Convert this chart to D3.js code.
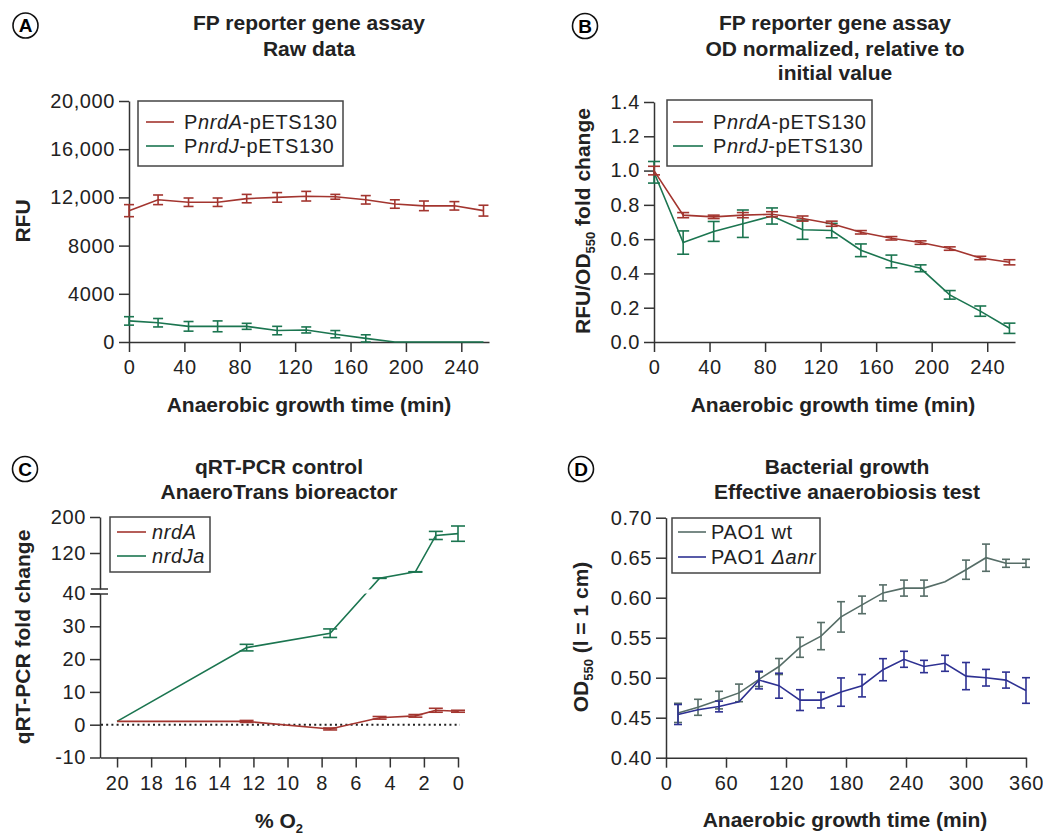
<!DOCTYPE html>
<html>
<head>
<meta charset="utf-8">
<script src="https://cdn.jsdelivr.net/npm/d3@7"></script>
<style>
  body { margin: 0; background: #fff; }
  svg { font-family: "Liberation Sans", Arial, Helvetica, sans-serif; }
  .tick text { font-size: 20px; letter-spacing: 0.6px; fill: #222; }
  .domain, .tick line { stroke: #333; stroke-width: 1.5px; }
  .title { font-size: 21px; font-weight: bold; fill: #222; }
  .legend text { font-size: 20px; letter-spacing: 0.6px; fill: #222; }
</style>
</head>
<body>
<svg id="fig" width="1043" height="835"></svg>
<script>
// --- data: panels A and B (FP reporter assay) ---
const timeAB = [0, 21, 43, 64, 85, 107, 128, 149, 171, 192, 213, 235, 256];
const rawNrdA = [10900, 11800, 11600, 11600, 11900, 12000, 12100, 12050, 11800, 11450, 11300, 11300, 10900];
const rawNrdAErr = [500, 400, 350, 350, 350, 400, 400, 200, 350, 350, 400, 350, 450];
const rawNrdJ = [1750, 1600, 1300, 1300, 1300, 950, 1000, 650, 300, 0, 0, 0, 0];
const rawNrdJErr = [350, 350, 400, 450, 250, 350, 250, 300, 300, 0, 0, 0, 0];

const normNrdA = [1.0, 0.74, 0.73, 0.74, 0.745, 0.72, 0.69, 0.64, 0.605, 0.58, 0.545, 0.49, 0.465];
const normNrdAErr = [0.025, 0.015, 0.01, 0.015, 0.015, 0.015, 0.015, 0.01, 0.01, 0.01, 0.01, 0.01, 0.015];
const normNrdJ = [0.99, 0.58, 0.645, 0.69, 0.735, 0.655, 0.65, 0.535, 0.47, 0.43, 0.275, 0.18, 0.08];
const normNrdJErr = [0.063, 0.068, 0.058, 0.08, 0.047, 0.056, 0.042, 0.037, 0.037, 0.02, 0.025, 0.03, 0.03];

// --- data: panel C (qRT-PCR vs % O2) ---
const o2 = [20, 12.4, 7.5, 4.6, 2.5, 1.3, 0];
const pcrNrdA = [1, 1, -1.3, 2.1, 2.7, 4.4, 4.1];
const pcrNrdAErr = [0, 0.3, 0.3, 0.4, 0.4, 0.6, 0.3];
const pcrNrdJa = [1, 23.5, 27.9, 64, 78, 159, 163];
const pcrNrdJaErr = [0, 1, 1.3, 0.4, 0.4, 9, 17];

// --- data: panel D (bacterial growth) ---
const timeD = [12, 32, 53, 73, 93, 113, 134, 155, 175, 196, 217, 238, 258, 279, 300, 320, 340, 360];
const odWt = [0.456, 0.463, 0.472, 0.481, 0.498, 0.514, 0.538, 0.552, 0.576, 0.591, 0.606, 0.612, 0.612, 0.62, 0.635, 0.65, 0.643, 0.643];
const odWtErr = [0.012, 0.010, 0.011, 0.011, 0.009, 0.010, 0.0125, 0.017, 0.019, 0.011, 0.010, 0.010, 0.010, 0, 0.012, 0.017, 0.005, 0.005];
const odAnr = [0.454, 0.46, 0.464, 0.47, 0.497, 0.49, 0.472, 0.472, 0.482, 0.49, 0.51, 0.523, 0.514, 0.518, 0.502, 0.50, 0.497, 0.484];
const odAnrErr = [0.0125, 0, 0.0067, 0, 0.011, 0.0156, 0.013, 0.0098, 0.0177, 0.014, 0.0138, 0.010, 0.0077, 0.010, 0.017, 0.0104, 0.010, 0.016];

const RED = "#a3352f", GREEN = "#1b7550", GREY = "#566d67", BLUE = "#2e3192";

const svg = d3.select("#fig");

function drawSeries(g, xs, ys, x, y, color) {
  const line = d3.line().x((d, i) => x(xs[i])).y(d => y(d));
  g.append("path").datum(ys)
    .attr("d", line).attr("fill", "none")
    .attr("stroke", color).attr("stroke-width", 1.6);
}

function drawErrors(g, xs, ys, errs, x, y, color, cap) {
  const data = ys.map((v, i) => ({ x: xs[i], v: v, e: errs[i] })).filter(d => d.e > 0);
  const eb = g.append("g").attr("stroke", color).attr("stroke-width", 1.6);
  data.forEach(d => {
    const cx = x(d.x), y0 = y(d.v - d.e), y1 = y(d.v + d.e);
    eb.append("line").attr("x1", cx).attr("x2", cx).attr("y1", y0).attr("y2", y1);
    eb.append("line").attr("x1", cx - cap).attr("x2", cx + cap).attr("y1", y0).attr("y2", y0);
    eb.append("line").attr("x1", cx - cap).attr("x2", cx + cap).attr("y1", y1).attr("y2", y1);
  });
}

function circled(cx, cy, letter) {
  svg.append("circle").attr("cx", cx).attr("cy", cy).attr("r", 12.5)
    .attr("fill", "none").attr("stroke", "#111").attr("stroke-width", 1.6);
  svg.append("text").attr("x", cx).attr("y", cy).attr("dy", "0.36em")
    .attr("text-anchor", "middle").style("font-size", "19px").style("font-weight", "bold")
    .text(letter);
}

function title(cx, ys, lines) {
  lines.forEach((t, i) => {
    svg.append("text").attr("class", "title").attr("x", cx).attr("y", ys[i])
      .attr("dy", "0.35em").attr("text-anchor", "middle").text(t);
  });
}

// axis title with optional subscript part: parts = [[text, isSub], ...]
function axisTitle(cx, cy, parts, rotate) {
  const t = svg.append("text").attr("class", "title")
    .attr("text-anchor", "middle")
    .attr("transform", `translate(${cx},${cy})` + (rotate ? " rotate(-90)" : ""))
    .attr("dy", "0.35em");
  parts.forEach(p => {
    const s = t.append("tspan").text(p[0]);
    if (p[1]) s.style("font-size", "13px").attr("baseline-shift", "-35%");
  });
}

// legend: items = [{color, parts:[[text, italic], ...]}]
function legend(x0, y0, w, h, lineX0, lineX1, textX, rowYs, items) {
  const g = svg.append("g").attr("class", "legend");
  g.append("rect").attr("x", x0).attr("y", y0).attr("width", w).attr("height", h)
    .attr("fill", "#fff").attr("stroke", "#444").attr("stroke-width", 1.5);
  items.forEach((it, i) => {
    g.append("line").attr("x1", lineX0).attr("x2", lineX1)
      .attr("y1", rowYs[i]).attr("y2", rowYs[i])
      .attr("stroke", it.color).attr("stroke-width", 1.6);
    const t = g.append("text").attr("x", textX).attr("y", rowYs[i]).attr("dy", "0.36em");
    it.parts.forEach(p => {
      t.append("tspan").text(p[0]).style("font-style", p[1] ? "italic" : "normal");
    });
  });
}

// ================= Panel A =================
{
  const x = d3.scaleLinear([0, 260], [129, 489]);
  const y = d3.scaleLinear([0, 20000], [342, 101]);
  const g = svg.append("g");
  g.append("g").attr("transform", "translate(0,342)")
    .call(d3.axisBottom(x).tickValues([0, 40, 80, 120, 160, 200, 240])
      .tickSize(10).tickSizeOuter(0).tickPadding(8));
  g.append("g").attr("transform", "translate(129,0)")
    .call(d3.axisLeft(y).tickValues([0, 4000, 8000, 12000, 16000, 20000])
      .tickFormat(d => d >= 10000 ? d3.format(",")(d) : d)
      .tickSize(10).tickSizeOuter(0).tickPadding(4));
  drawSeries(g, timeAB, rawNrdJ, x, y, GREEN);
  drawErrors(g, timeAB, rawNrdJ, rawNrdJErr, x, y, GREEN, 5);
  drawSeries(g, timeAB, rawNrdA, x, y, RED);
  drawErrors(g, timeAB, rawNrdA, rawNrdAErr, x, y, RED, 5);

  legend(138, 101, 205, 65, 146, 174, 184, [122, 146], [
    { color: RED, parts: [["P", false], ["nrdA", true], ["-pETS130", false]] },
    { color: GREEN, parts: [["P", false], ["nrdJ", true], ["-pETS130", false]] }
  ]);
  circled(25.5, 25.5, "A");
  title(309, [23, 49], ["FP reporter gene assay", "Raw data"]);
  axisTitle(23, 221, [["RFU", false]], true);
  axisTitle(309, 405, [["Anaerobic growth time (min)", false]], false);
}

// ================= Panel B =================
{
  const x = d3.scaleLinear([0, 260], [654, 1015]);
  const y = d3.scaleLinear([0, 1.4], [342, 102]);
  const g = svg.append("g");
  g.append("g").attr("transform", "translate(0,342)")
    .call(d3.axisBottom(x).tickValues([0, 40, 80, 120, 160, 200, 240])
      .tickSize(10).tickSizeOuter(0).tickPadding(8));
  g.append("g").attr("transform", "translate(654,0)")
    .call(d3.axisLeft(y).tickValues([0, 0.2, 0.4, 0.6, 0.8, 1.0, 1.2, 1.4])
      .tickFormat(d3.format(".1f"))
      .tickSize(10).tickSizeOuter(0).tickPadding(4));
  drawSeries(g, timeAB, normNrdJ, x, y, GREEN);
  drawErrors(g, timeAB, normNrdJ, normNrdJErr, x, y, GREEN, 6);
  drawSeries(g, timeAB, normNrdA, x, y, RED);
  drawErrors(g, timeAB, normNrdA, normNrdAErr, x, y, RED, 6);

  legend(667, 100, 205, 66, 673, 703, 713, [122, 146], [
    { color: RED, parts: [["P", false], ["nrdA", true], ["-pETS130", false]] },
    { color: GREEN, parts: [["P", false], ["nrdJ", true], ["-pETS130", false]] }
  ]);
  circled(585, 26, "B");
  title(835, [23, 48.5, 73], ["FP reporter gene assay", "OD normalized, relative to", "initial value"]);
  axisTitle(583, 221, [["RFU/OD", false], ["550", true], [" fold change", false]], true);
  axisTitle(833, 405, [["Anaerobic growth time (min)", false]], false);
}

// ================= Panel C (segmented y axis) =================
{
  const x = d3.scaleLinear([21, 0], [100, 458]);
  const yLow = d3.scaleLinear([-10, 40], [757.5, 593.5]);
  const yUp = d3.scaleLinear([40, 200], [589, 517]);
  const yC = v => v <= 40 ? yLow(v) : yUp(v);
  const g = svg.append("g");

  g.append("g").attr("transform", "translate(0,757.5)")
    .call(d3.axisBottom(x).tickValues([20, 18, 16, 14, 12, 10, 8, 6, 4, 2, 0])
      .tickSize(10).tickSizeOuter(0).tickPadding(8));
  g.append("g").attr("transform", "translate(100,0)")
    .call(d3.axisLeft(yLow).tickValues([-10, 0, 10, 20, 30, 40])
      .tickFormat(d => String(d))
      .tickSize(10).tickSizeOuter(0).tickPadding(4));
  g.append("g").attr("transform", "translate(100,0)")
    .call(d3.axisLeft(yUp).tickValues([120, 200])
      .tickSize(10).tickSizeOuter(0).tickPadding(4));
  // break marks
  [589, 594].forEach(by => {
    g.append("line").attr("x1", 91).attr("x2", 108).attr("y1", by).attr("y2", by)
      .attr("stroke", "#333").attr("stroke-width", 1.5);
  });

  // dotted zero line
  g.append("line").attr("x1", 101).attr("x2", 460)
    .attr("y1", yLow(0)).attr("y2", yLow(0))
    .attr("stroke", "#222").attr("stroke-width", 2).attr("stroke-dasharray", "2,3.2");

  drawSeries(g, o2, pcrNrdJa, x, yC, GREEN);
  // gap where the line crosses the axis break
  g.append("rect").attr("x", 110).attr("y", 589.5).attr("width", 360).attr("height", 4)
    .attr("fill", "#fff");
  drawErrors(g, o2, pcrNrdJa, pcrNrdJaErr, x, yC, GREEN, 7);
  drawSeries(g, o2, pcrNrdA, x, yC, RED);
  drawErrors(g, o2, pcrNrdA, pcrNrdAErr, x, yC, RED, 7);

  legend(110, 517, 100, 55, 117, 146, 152, [532, 556], [
    { color: RED, parts: [["nrdA", true]] },
    { color: GREEN, parts: [["nrdJa", true]] }
  ]);
  circled(25, 469, "C");
  title(279, [467, 492], ["qRT-PCR control", "AnaeroTrans bioreactor"]);
  axisTitle(23, 637, [["qRT-PCR fold change", false]], true);
  axisTitle(279, 821, [["% O", false], ["2", true]], false);
}

// ================= Panel D =================
{
  const x = d3.scaleLinear([0, 360], [666, 1026]);
  const y = d3.scaleLinear([0.40, 0.70], [757.7, 517.7]);
  const g = svg.append("g");
  g.append("g").attr("transform", "translate(0,757.7)")
    .call(d3.axisBottom(x).tickValues([0, 60, 120, 180, 240, 300, 360])
      .tickSize(10).tickSizeOuter(0).tickPadding(8));
  g.append("g").attr("transform", "translate(666,0)")
    .call(d3.axisLeft(y).tickValues([0.40, 0.45, 0.50, 0.55, 0.60, 0.65, 0.70])
      .tickFormat(d3.format(".2f"))
      .tickSize(10).tickSizeOuter(0).tickPadding(4));
  drawSeries(g, timeD, odWt, x, y, GREY);
  drawErrors(g, timeD, odWt, odWtErr, x, y, GREY, 4);
  drawSeries(g, timeD, odAnr, x, y, BLUE);
  drawErrors(g, timeD, odAnr, odAnrErr, x, y, BLUE, 4);

  legend(672, 518, 148, 55, 678, 706, 711, [532, 557], [
    { color: GREY, parts: [["PAO1 wt", false]] },
    { color: BLUE, parts: [["PAO1 ", false], ["\u0394anr", true]] }
  ]);
  circled(581, 469, "D");
  title(847, [467, 492], ["Bacterial growth", "Effective anaerobiosis test"]);
  axisTitle(581, 637, [["OD", false], ["550", true], [" (l = 1 cm)", false]], true);
  axisTitle(845, 820, [["Anaerobic growth time (min)", false]], false);
}
</script>
</body>
</html>
